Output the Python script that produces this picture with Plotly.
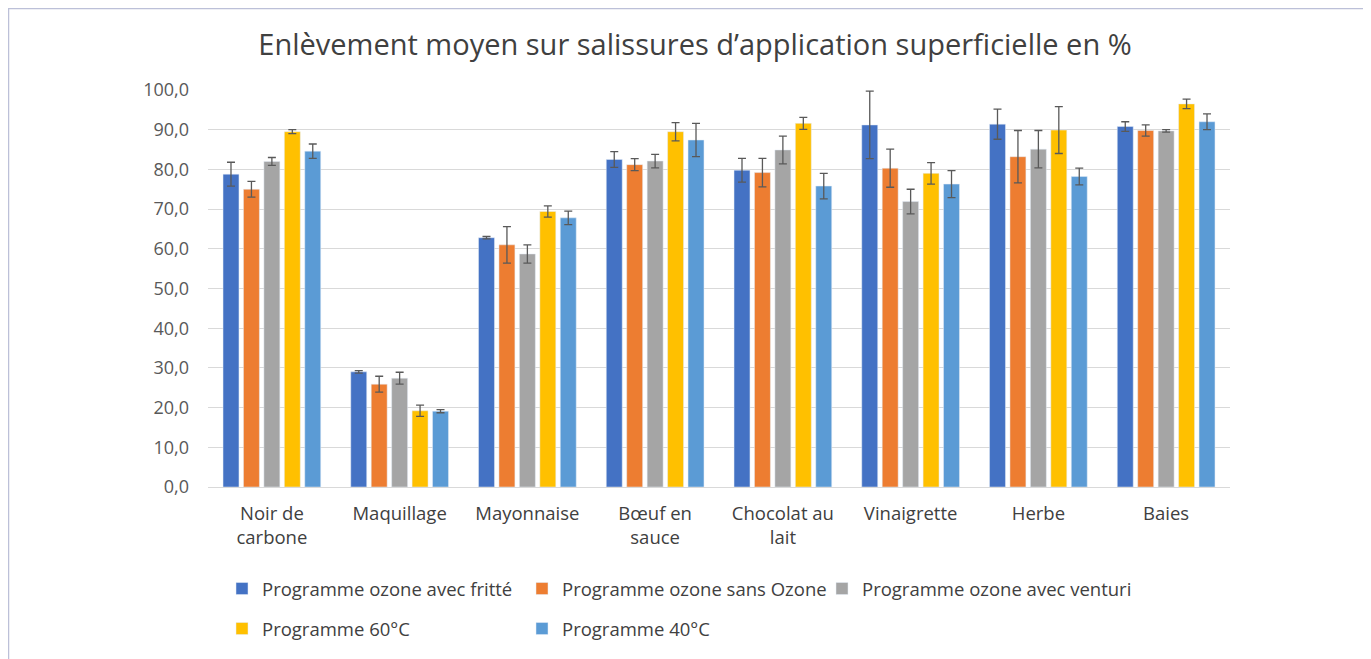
import plotly.graph_objects as go

categories = ["Noir de<br>carbone", "Maquillage", "Mayonnaise", "Bœuf en<br>sauce",
              "Chocolat au<br>lait", "Vinaigrette", "Herbe", "Baies"]

series_names = ["Programme ozone avec fritté", "Programme ozone sans Ozone",
                "Programme ozone avec venturi", "Programme 60°C", "Programme 40°C"]

fritte = [78.8, 29.0, 62.8, 82.5, 79.8, 91.2, 91.4, 90.8]
fritte_err = [3.0, 0.3, 0.3, 2.0, 3.0, 8.5, 3.8, 1.2]

sans_ozone = [75.0, 25.9, 61.0, 81.2, 79.2, 80.3, 83.2, 89.8]
sans_ozone_err = [2.0, 2.0, 4.6, 1.5, 3.6, 4.8, 6.6, 1.4]

venturi = [82.0, 27.4, 58.7, 82.1, 84.9, 71.9, 85.1, 89.7]
venturi_err = [1.0, 1.5, 2.3, 1.7, 3.5, 3.1, 4.7, 0.3]

p60 = [89.5, 19.2, 69.4, 89.5, 91.6, 79.0, 89.9, 96.5]
p60_err = [0.5, 1.4, 1.4, 2.3, 1.5, 2.7, 5.9, 1.2]

p40 = [84.6, 19.1, 67.8, 87.4, 75.8, 76.3, 78.2, 92.0]
p40_err = [1.8, 0.4, 1.7, 4.2, 3.2, 3.4, 2.1, 2.0]

values = [fritte, sans_ozone, venturi, p60, p40]
errors = [fritte_err, sans_ozone_err, venturi_err, p60_err, p40_err]
colors = ["#4472C4", "#ED7D31", "#A5A5A5", "#FFC000", "#5B9BD5"]

y_ticks = [0, 10, 20, 30, 40, 50, 60, 70, 80, 90, 100]

FONT = "Open Sans, Lato, sans-serif"

# page offset (default body margin of the html page)
OFF = 8
W, H = 1371, 659
L, R, T, B = 208 - OFF, 1371 - (1230 - OFF), 90 - OFF, 659 - (487 - OFF)
pw, ph = W - L - R, H - T - B

def px_x(px):
    return (px - OFF - L) / pw

def px_y(py):
    return (H - B - (py - OFF)) / ph

legend_font = dict(size=18.5, color="#404040")
# legend entry positions in the picture (left of legend box, top of row)
legend_pos = [(222, 570), (522, 570), (822, 570), (222, 610), (522, 610)]

fig = go.Figure()
legend_layouts = {}
for i, (name, vals, errs, col) in enumerate(zip(series_names, values, errors, colors)):
    lg = "legend" if i == 0 else f"legend{i + 1}"
    fig.add_trace(go.Bar(
        x=categories, y=vals, name=name, marker_color=col, legend=lg,
        error_y=dict(type="data", array=errs, visible=True,
                     color="#595959", thickness=1.3, width=4),
    ))
    lx, ly = legend_pos[i]
    legend_layouts[lg] = dict(orientation="h", x=px_x(lx), xanchor="left",
                              y=px_y(ly), yanchor="top",
                              font=legend_font, bgcolor="rgba(0,0,0,0)")

fig.update_layout(
    width=W, height=H,
    margin=dict(l=L, r=R, t=T, b=B),
    paper_bgcolor="white", plot_bgcolor="white",
    separators=", ",
    barmode="group", bargap=0.2, bargroupgap=0.22,
    font=dict(family=FONT, color="#404040", size=15),
    title=dict(text="Enlèvement moyen sur salissures d’application superficielle en %",
               x=(695 - OFF) / W, xanchor="center", y=1 - (45 - OFF) / H, yanchor="middle",
               font=dict(size=29, color="#404040", family=FONT)),
    xaxis=dict(showgrid=False, showline=False, ticks="", ticklabelstandoff=13,
               tickfont=dict(size=18.5, color="#404040")),
    yaxis=dict(range=[0, 100], tickvals=y_ticks, tickformat=".1f",
               showgrid=True, gridcolor="#D9D9D9", gridwidth=1,
               zeroline=True, zerolinecolor="#D9D9D9", zerolinewidth=1,
               showline=False, ticks="", ticklabelstandoff=18,
               tickfont=dict(size=18, color="#595959")),
    showlegend=True,
    shapes=[dict(type="rect", xref="paper", yref="paper",
                 x0=px_x(8), x1=px_x(1366), y0=px_y(720), y1=px_y(8),
                 line=dict(color="#BCC0D8", width=2.5), fillcolor="rgba(0,0,0,0)",
                 layer="below")],
    **legend_layouts,
)

fig.write_html("out.html")
